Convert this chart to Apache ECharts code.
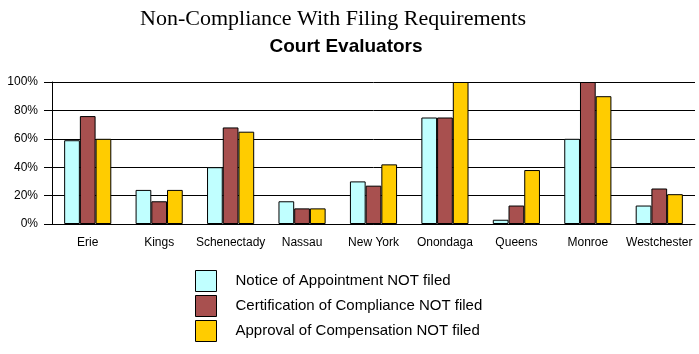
<!DOCTYPE html>
<html lang="en">
<head>
<meta charset="UTF-8">
<title>Non-Compliance With Filing Requirements</title>
<script src="https://cdn.jsdelivr.net/npm/echarts@6/dist/echarts.min.js"></script>
<style>
  html, body { margin: 0; padding: 0; background: #fff; }
  #chart { width: 699px; height: 354px; }
</style>
</head>
<body>
<div id="chart"></div>
<script>
// counties
var counties = ['Erie', 'Kings', 'Schenectady', 'Nassau', 'New York', 'Onondaga', 'Queens', 'Monroe', 'Westchester'];
// percent of cases, per filing type
var noticeNotFiled = [59, 24, 40, 16, 30, 75, 3, 60, 13];
var certNotFiled = [76, 16, 68, 11, 27, 75, 13, 100, 25];
var approvalNotFiled = [60, 24, 65, 11, 42, 100, 38, 90, 21];
var seriesNames = [
  'Notice of Appointment NOT filed',
  'Certification of Compliance NOT filed',
  'Approval of Compensation NOT filed'
];
var colors = ['#c0ffff', '#a8504f', '#ffcc00'];
var yTicks = [0, 20, 40, 60, 80, 100];

var myChart = echarts.init(document.getElementById('chart'));

function barSeries(idx, values) {
  return {
    name: seriesNames[idx],
    type: 'bar',
    data: values,
    barGap: '0%',
    barCategoryGap: '34%',
    itemStyle: { color: colors[idx], borderColor: '#000', borderWidth: 1 }
  };
}

var option = {
  animation: false,
  title: [
    {
      text: 'Non-Compliance With Filing Requirements',
      left: 328, top: 3, textAlign: 'center',
      textStyle: { fontFamily: 'Liberation Serif', fontWeight: 'normal', fontSize: 22, color: '#000' }
    },
    {
      text: 'Court Evaluators',
      left: 341, top: 32, textAlign: 'center',
      textStyle: { fontFamily: 'Liberation Sans', fontWeight: 'bold', fontSize: 19, color: '#000' }
    }
  ],
  legend: {
    orient: 'vertical',
    left: 195, top: 270,
    itemWidth: 21, itemHeight: 21, itemGap: 3,
    icon: 'rect',
    padding: 0,
    itemStyle: { borderColor: '#000', borderWidth: 1 },
    textStyle: { fontFamily: 'Liberation Sans', fontSize: 15, color: '#000', padding: [0, 0, 0, 14] },
    data: seriesNames
  },
  grid: { left: 52, right: 4, top: 82, bottom: 130, containLabel: false },
  xAxis: {
    type: 'category',
    data: counties,
    axisLine: { lineStyle: { color: '#000', width: 1 } },
    axisTick: { alignWithLabel: true, length: 7, lineStyle: { color: '#000' } },
    axisLabel: { color: '#000', fontFamily: 'Liberation Sans', fontSize: 12, margin: 13, interval: 0 }
  },
  yAxis: {
    type: 'value',
    min: yTicks[0], max: yTicks[yTicks.length - 1], interval: 20,
    axisLine: { show: true, lineStyle: { color: '#000', width: 1 } },
    axisTick: { show: true, length: 8, lineStyle: { color: '#000' } },
    axisLabel: { color: '#000', fontFamily: 'Liberation Sans', fontSize: 12, margin: 14, formatter: '{value}%' },
    splitLine: { show: true, lineStyle: { color: '#000', width: 1 } }
  },
  series: [
    barSeries(0, noticeNotFiled),
    barSeries(1, certNotFiled),
    barSeries(2, approvalNotFiled)
  ]
};

myChart.setOption(option);
</script>
</body>
</html>
